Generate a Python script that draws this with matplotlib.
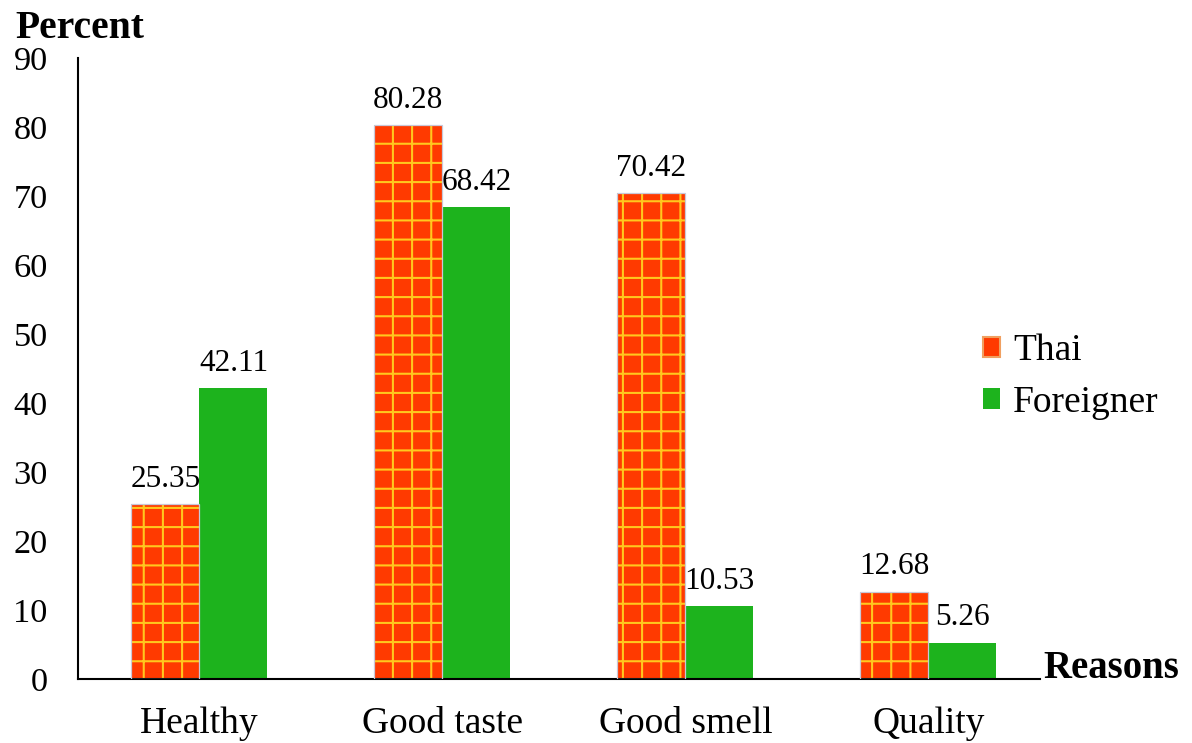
import numpy as np
import matplotlib
matplotlib.use('Agg')
import matplotlib.pyplot as plt
from matplotlib.patches import Patch

DPI = 230
K = 150 / DPI   # sizes below were tuned at 150 dpi

plt.rcParams.update({
    'font.family': 'Liberation Serif',
    'font.size': 16 * K,
    'hatch.linewidth': 1.0 * K,
})

categories = ['Healthy', 'Good taste', 'Good smell', 'Quality']
thai = [25.35, 80.28, 70.42, 12.68]
foreigner = [42.11, 68.42, 10.53, 5.26]
yticks = [0, 10, 20, 30, 40, 50, 60, 70, 80, 90]

THAI_FACE = '#FF3A00'
THAI_GRID = '#FFC81E'
FOREIGN = '#1DB31D'

fig = plt.figure(figsize=(1192 / DPI, 743 / DPI), dpi=DPI)
ax = fig.add_axes([0.0654, 0.0861, 0.8071, 0.8358])

x = np.arange(len(categories))
w = 0.28
b1 = ax.bar(x - w / 2, thai, w, color=THAI_FACE, edgecolor=THAI_GRID,
            linewidth=0, hatch='++', zorder=2)
# thin light outline around the checked bars
ax.bar(x - w / 2, thai, w, facecolor='none', edgecolor='#C8C8D8',
       linewidth=0.6 * K, zorder=3)
b2 = ax.bar(x + w / 2, foreigner, w, color=FOREIGN, linewidth=0, zorder=2)

for bars, vals in [(b1, thai), (b2, foreigner)]:
    for r, v in zip(bars, vals):
        ax.annotate(f'{v:.2f}', (r.get_x() + r.get_width() / 2, v),
                    xytext=(0, 5 * K), textcoords='offset points',
                    ha='center', va='bottom', fontsize=15 * K)

ax.set_xlim(-0.5, 3.46)
ax.set_ylim(0, 90)
ax.set_yticks(yticks)
ax.set_xticks(x)
ax.set_xticklabels(categories)
ax.tick_params(axis='both', length=0)
ax.tick_params(axis='x', pad=13 * K, labelsize=18 * K)
ax.tick_params(axis='y', pad=14.5 * K, labelsize=16.5 * K)
for s in ['top', 'right']:
    ax.spines[s].set_visible(False)
ax.spines['left'].set_linewidth(1.0 * K)
ax.spines['bottom'].set_linewidth(1.0 * K)

fig.text(15 / 1192, 1 - 28 / 743, 'Percent', fontsize=19 * K,
         fontweight='bold', ha='left', va='center')
fig.text(1043 / 1192, 1 - 668 / 743, 'Reasons', fontsize=18.6 * K,
         fontweight='bold', ha='left', va='center')

handles = [Patch(facecolor=THAI_FACE, edgecolor='#F0A060', linewidth=1.0 * K),
           Patch(facecolor=FOREIGN, linewidth=0)]
fig.legend(handles, ['Thai', 'Foreigner'], loc='upper left',
           bbox_to_anchor=(983 / 1192, 1 - 334 / 743), frameon=False,
           fontsize=18 * K, handlelength=0.45, handleheight=0.45,
           handletextpad=0.35, labelspacing=0.45, borderpad=0,
           borderaxespad=0)

fig.savefig('out.png', dpi=DPI)
